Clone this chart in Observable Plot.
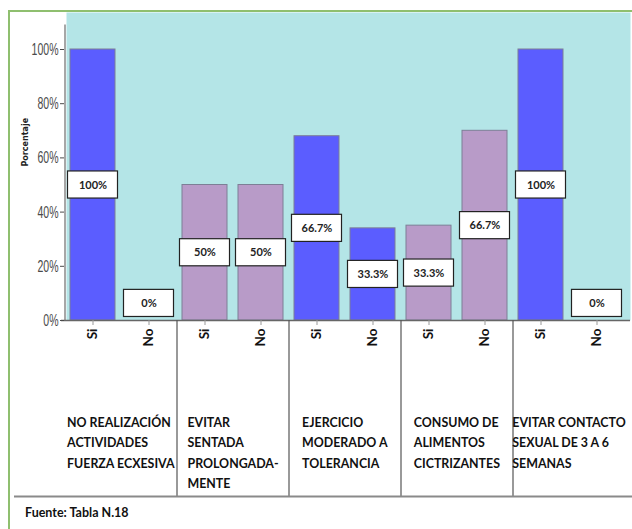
<!DOCTYPE html>
<html><head><meta charset="utf-8">
<script src="https://cdn.jsdelivr.net/npm/d3@7"></script>
<script src="https://cdn.jsdelivr.net/npm/@observablehq/plot@0.6"></script>
<style>
body{margin:0;background:#fff;}
#wrap{position:relative;width:632px;height:529px;overflow:hidden;}
#border{position:absolute;left:8px;top:10px;width:640px;height:540px;border-left:2px solid #8fbf6f;border-top:2px solid #8fbf6f;}
#chart{position:absolute;left:0;top:0;}
#caption{position:absolute;left:25px;top:505px;font:bold 12.5px Lato, sans-serif;color:#111;}
</style></head>
<body><div id="wrap"><div id="border"></div><div id="chart"></div><div id="caption">Fuente: Tabla N.18</div></div>
<script>
// ---- data ----
const categories = ["g1-Si","g1-No","g2-Si","g2-No","g3-Si","g3-No","g4-Si","g4-No","g5-Si","g5-No"];
const answers = ["Si","No","Si","No","Si","No","Si","No","Si","No"];
const values = [100, 0, 50, 50, 68, 34, 35, 70, 100, 0];
const valueLabels = ["100%","0%","50%","50%","66.7%","33.3%","33.3%","66.7%","100%","0%"];
const series = ["A","A","B","B","A","A","B","B","A","A"];
const groupFirst = ["g1-Si","g2-Si","g3-Si","g4-Si","g5-Si"];
const groupLabels = [
  "NO REALIZACIÓN\nACTIVIDADES\nFUERZA ECXESIVA",
  "EVITAR\nSENTADA\nPROLONGADA-\nMENTE",
  "EJERCICIO\nMODERADO A\nTOLERANCIA",
  "CONSUMO DE\nALIMENTOS\nCICTRIZANTES",
  "EVITAR CONTACTO\nSEXUAL DE 3 A 6\nSEMANAS"
];
const yTicks = [0, 20, 40, 60, 80, 100];

const data = categories.map((c, i) => ({cat: c, answer: answers[i], value: values[i], label: valueLabels[i], series: series[i]}));
const groups = groupFirst.map((c, i) => ({cat: c, text: groupLabels[i]}));
const minLabelY = 6.3;   // label box floor for 0% bars
const boxHalf = 5;       // half-height of label box in y units
const ly = d => Math.max(d.value / 2, minLabelY);

const chart = Plot.plot({
  width: 632,
  height: 500,
  marginLeft: 64,
  marginRight: 2,
  marginTop: 12,
  marginBottom: 180,
  style: {fontFamily: "Lato, sans-serif", background: "transparent"},
  x: {type: "band", domain: categories, range: [64, 624], paddingInner: 0.2, paddingOuter: 0.1, axis: null},
  y: {domain: [0, 100], range: [320, 49], axis: null},
  color: {domain: ["A", "B"], range: ["#5b5dff", "#b89bc8"]},
  marks: [
    Plot.frame({fill: "#b4e5e7", stroke: "none", insetLeft: 2}),
    Plot.barY(data, {filter: d => d.value > 0, x: "cat", y: "value", fill: "series", stroke: "#7d7f96", strokeWidth: 1}),
    Plot.rect(data, {x: "cat", y1: d => ly(d) - boxHalf, y2: d => ly(d) + boxHalf, fill: "white", stroke: "#222", strokeWidth: 1.2, insetLeft: -2.5, insetRight: -2.5}),
    Plot.text(data, {x: "cat", y: ly, text: "label", fontWeight: "bold", fontSize: 11, fill: "#222"}),
    // axis line and baseline
    Plot.ruleX([categories[0]], {y1: 0, y2: 109, dx: -28, stroke: "#8a8a8a", strokeWidth: 1.5}),
    Plot.ruleY([0], {stroke: "#666", strokeWidth: 1.5, insetLeft: -3}),
    Plot.axisY({ticks: yTicks, tickFormat: d => d + "%", tickSize: 4, tickPadding: 2, fontSize: 17,
      fontFamily: "'Liberation Sans', Arial, sans-serif", color: "#4a4a4a", label: null}),
    Plot.text(["Porcentaje"], {frameAnchor: "left", rotate: -90, dx: -39, fontSize: 8, fontWeight: "bold", fill: "#222",
      fontFamily: "'DejaVu Sans', sans-serif"}),
    Plot.axisX({tickFormat: c => c.split("-")[1], tickRotate: -90, fontWeight: "bold", fontSize: 13.5,
      tickSize: 5, tickPadding: 3, stroke: "#999", fill: "#111", label: null}),
    // group separators and bottom rule
    Plot.ruleX(groupFirst.slice(1), {dx: -28, insetTop: 308, insetBottom: -176, stroke: "#555", strokeWidth: 1.2}),
    Plot.ruleY([0], {dy: 176, insetLeft: -50, insetRight: -4, stroke: "#8a8a8a", strokeWidth: 2}),
    // group labels
    Plot.text(groups, {x: "cat", y: () => 0, dx: 28, dy: 92, text: "text", lineAnchor: "top", lineHeight: 1.65,
      textAnchor: "middle", fontWeight: "bold", fontSize: 12.4, fill: "#111", ariaDescription: "group-labels"})
  ]
});
document.getElementById("chart").appendChild(chart);
// left-align each group label block while keeping the block centered in its group
chart.querySelectorAll('g[aria-description="group-labels"] text').forEach(t => {
  const w = t.getBBox().width;
  t.setAttribute("text-anchor", "start");
  t.querySelectorAll("tspan").forEach(s => s.setAttribute("x", -w / 2));
});
// condensed look for the y tick labels (narrow font not installed)
chart.querySelectorAll('g[aria-label="y-axis tick label"] text').forEach(t => {
  const tr = t.getAttribute("transform") || "";
  t.setAttribute("transform", tr + " scale(0.62,1)");
});
</script>
</body></html>
